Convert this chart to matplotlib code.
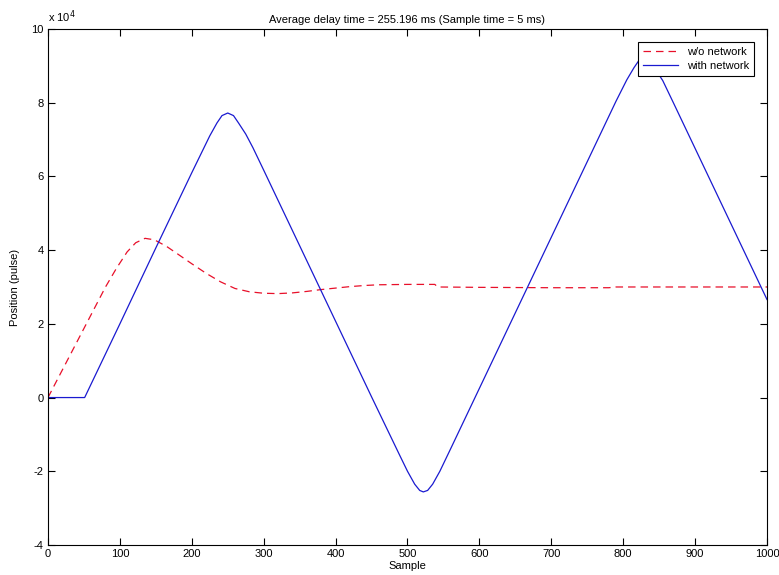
import matplotlib
matplotlib.use("Agg")
import matplotlib.pyplot as plt

plt.rcParams['font.family'] = ['Liberation Sans', 'DejaVu Sans']

# Datos (posicion en unidades de 1e4 pulsos)
muestras_sin_red = [0, 20, 40, 60, 80, 95, 110, 122, 135, 148, 165, 180, 200, 220, 240,
                    260, 280, 300, 320, 340, 360, 380, 400, 420, 440, 460, 500, 538,
                    542, 600, 700, 780, 790, 900, 1000]
pos_sin_red = [0, 0.75, 1.5, 2.25, 3.0, 3.5, 3.95, 4.2, 4.32, 4.28, 4.1, 3.9, 3.63, 3.37, 3.14,
               2.96, 2.87, 2.83, 2.82, 2.84, 2.88, 2.93, 2.97, 3.01, 3.04, 3.06, 3.07, 3.07,
               3.0, 2.99, 2.98, 2.98, 3.0, 3.0, 3.0]

muestras_con_red = [0, 51, 100, 150, 200, 225, 235, 242, 250, 258, 265, 275, 285, 300, 350,
                    400, 450, 490, 500, 510, 517, 522, 528, 535, 545, 560, 600, 650, 700,
                    750, 790, 805, 815, 822, 830, 838, 845, 855, 870, 900, 950, 1000]
pos_con_red = [0, 0, 2.0, 4.06, 6.1, 7.1, 7.45, 7.65, 7.72, 7.65, 7.45, 7.15, 6.78, 6.17, 4.12,
               2.07, 0.02, -1.6, -2.0, -2.35, -2.52, -2.56, -2.52, -2.35, -2.0, -1.39, 0.25,
               2.3, 4.35, 6.4, 8.04, 8.62, 8.95, 9.15, 9.2, 9.12, 8.9, 8.6, 7.99, 6.76, 4.71, 2.66]

marcas_y = [-4, -2, 0, 2, 4, 6, 8, 10]

fig = plt.figure(figsize=(7.79, 5.75), dpi=100)
ax = fig.add_axes([0.0616, 0.0522, 0.9230, 0.8974])

ax.plot(muestras_sin_red, pos_sin_red, '--', color='#e8102a',
        linewidth=0.9, dashes=(6, 4), label='w/o network')
ax.plot(muestras_con_red, pos_con_red, '-', color='#1a1ad0',
        linewidth=0.9, label='with network')

ax.set_xlim(0, 1000)
ax.set_ylim(-4, 10)
ax.set_xticks(range(0, 1001, 100))
ax.set_yticks(marcas_y)
ax.set_yticklabels([str(v) for v in marcas_y])

# factor de escala estilo MATLAB
ax.text(0.0, 1.008, r"x 10$^4$", transform=ax.transAxes, fontsize=8,
        ha='left', va='bottom')

ax.tick_params(direction='in', length=5, width=0.8, labelsize=8,
               top=True, right=True, pad=3)
for s in ax.spines.values():
    s.set_linewidth(0.8)

ax.set_title("Average delay time = 255.196 ms (Sample time = 5 ms)", fontsize=8, pad=4)
ax.set_xlabel("Sample", fontsize=8, labelpad=1)
ax.set_ylabel("Position (pulse)", fontsize=8, labelpad=8)

leg = ax.legend(loc='upper right', fontsize=8, fancybox=False, framealpha=1,
                edgecolor='black', borderaxespad=1.2, handlelength=3.2,
                borderpad=0.4, labelspacing=0.4)
leg.get_frame().set_linewidth(0.8)

fig.savefig("out.png", dpi=100)
